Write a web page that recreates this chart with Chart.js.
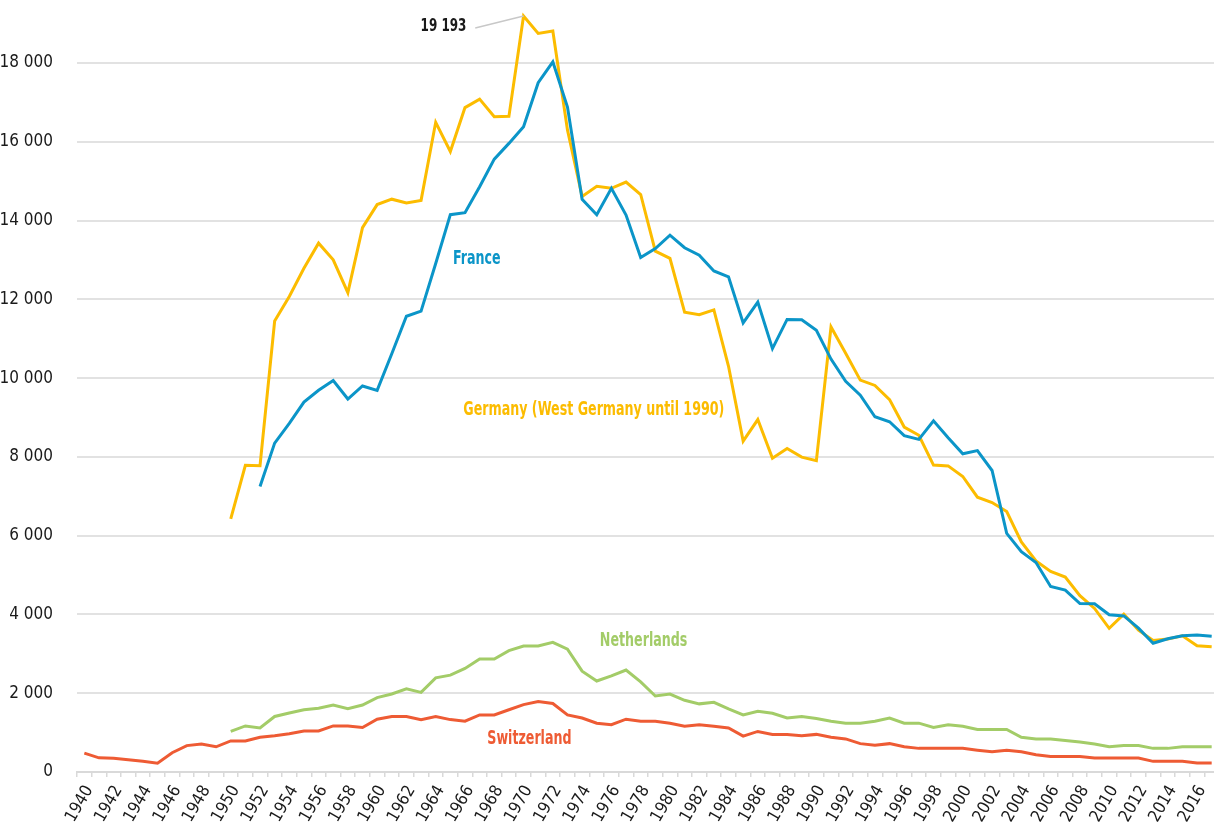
<!DOCTYPE html>
<html>
<head>
<meta charset="utf-8">
<title>Road deaths</title>
<script src="https://cdn.jsdelivr.net/npm/chart.js@4.4.1/dist/chart.umd.min.js"></script>
<style>
html, body { margin:0; padding:0; background:#fff; overflow:hidden; }
#wrap { width:1219px; height:822px; position:relative; }
</style>
</head>
<body>
<div id="wrap"><canvas id="graph"></canvas></div>
<script>
/************************************** Data **************************************/
const years = [1940,1941,1942,1943,1944,1945,1946,1947,1948,1949,
  1950,1951,1952,1953,1954,1955,1956,1957,1958,1959,
  1960,1961,1962,1963,1964,1965,1966,1967,1968,1969,
  1970,1971,1972,1973,1974,1975,1976,1977,1978,1979,
  1980,1981,1982,1983,1984,1985,1986,1987,1988,1989,
  1990,1991,1992,1993,1994,1995,1996,1997,1998,1999,
  2000,2001,2002,2003,2004,2005,2006,2007,2008,2009,
  2010,2011,2012,2013,2014,2015,2016,2017];

const yTicks = [0, 2000, 4000, 6000, 8000, 10000, 12000, 14000, 16000, 18000];

// 1940-1951 no data
const france = [null,null,null,null,null,null,null,null,null,null,
  null,null,7250,8350,8850,9390,9690,9940,9470,9800,
  9690,10620,11570,11700,12910,14150,14200,14860,15560,15960,
  16380,17500,18030,16880,14540,14150,14820,14140,13060,13290,
  13630,13310,13120,12720,12570,11400,11930,10750,11490,11480,
  11215,10483,9920,9568,9019,8892,8541,8444,8918,8487,
  8079,8160,7655,6058,5593,5318,4709,4620,4275,4273,
  3992,3963,3653,3268,3384,3461,3477,3448];

// 1940-1949 no data
const germany = [null,null,null,null,null,null,null,null,null,null,
  6428,7787,7776,11449,12071,12791,13427,13004,12169,13822,
  14406,14543,14445,14513,16494,15753,16868,17084,16636,16646,
  19193,18753,18811,16302,14614,14870,14820,14978,14662,13222,
  13041,11674,11608,11732,10300,8400,8948,7967,8213,7995,
  7906,11300,10631,9949,9814,9454,8758,8549,7792,7772,
  7503,6977,6842,6613,5842,5361,5091,4949,4477,4152,
  3648,4009,3600,3339,3377,3459,3206,3180];

const netherlands = [null,null,null,null,null,null,null,null,null,null,
  1030,1170,1120,1410,1500,1580,1620,1700,1610,1700,
  1890,1980,2110,2020,2390,2460,2630,2870,2870,3080,
  3200,3200,3290,3120,2560,2310,2440,2590,2290,1930,
  1980,1820,1730,1770,1600,1450,1540,1490,1370,1410,
  1360,1290,1240,1240,1290,1370,1240,1240,1130,1200,
  1160,1080,1080,1080,880,840,840,800,760,710,
  640,670,670,600,600,640,640,640];

const switzerland = [480,360,350,310,270,225,490,670,710,640,
  790,790,880,920,970,1040,1040,1170,1170,1130,
  1340,1410,1410,1330,1410,1330,1290,1450,1450,1580,
  1710,1790,1740,1450,1370,1240,1200,1340,1290,1290,
  1240,1160,1200,1160,1120,910,1030,950,950,920,
  955,880,840,720,680,720,640,600,600,600,
  600,555,515,555,515,440,395,395,395,355,
  355,355,355,270,270,270,228,228];

/************************************** Styles **************************************/
const FONT = "'Liberation Sans Narrow', 'DejaVu Sans Condensed', sans-serif";
const colFrance = '#0b95c8';
const colGermany = '#fcbc00';
const colNether = '#a3cc68';
const colSwiss = '#ee5b34';
const squeeze = 0.74; // text in the source is a condensed face

Chart.defaults.font.family = FONT;

const spaced = (v) => String(v).replace(/\B(?=(\d{3})+(?!\d))/g, ' ');

/************************************** Labels on the lines **************************************/
const lineLabels = [
  {text: 'France', year: 1966.8, value: 13020, color: colFrance},
  {text: 'Germany (West Germany until 1990)', year: 1974.8, value: 9180, color: colGermany},
  {text: 'Netherlands', year: 1978.2, value: 3330, color: colNether},
  {text: 'Switzerland', year: 1970.4, value: 840, color: colSwiss}
];

const drawNarrow = (ctx, text, x, y) => {
  ctx.save();
  ctx.translate(x, y);
  ctx.scale(squeeze, 1);
  ctx.fillText(text, 0, 0);
  ctx.restore();
};

const labelPlugin = {
  id: 'lineLabels',
  afterDatasetsDraw(chart) {
    const ctx = chart.ctx;
    const x = chart.scales.x, y = chart.scales.y;
    const px = (yr) => x.getPixelForValue(yr - years[0]);
    ctx.save();
    ctx.font = 'bold 19px ' + FONT;
    ctx.textAlign = 'center';
    ctx.textBaseline = 'middle';
    lineLabels.forEach((l) => {
      ctx.fillStyle = l.color;
      drawNarrow(ctx, l.text, px(l.year), y.getPixelForValue(l.value));
    });
    // peak callout
    const peak = Math.max(...germany.filter(v => v !== null));
    const peakYear = years[germany.indexOf(peak)];
    ctx.strokeStyle = '#c8c8c8';
    ctx.lineWidth = 1.5;
    ctx.beginPath();
    ctx.moveTo(px(1966.7), y.getPixelForValue(18890));
    ctx.lineTo(px(peakYear), y.getPixelForValue(peak));
    ctx.stroke();
    ctx.fillStyle = '#1a1a1a';
    ctx.font = 'bold 18px ' + FONT;
    ctx.textAlign = 'right';
    drawNarrow(ctx, spaced(peak), px(1966.1), y.getPixelForValue(18920));
    ctx.restore();
  }
};

/************************************** Chart **************************************/
const makeSet = (label, data, color) => ({
  label: label,
  data: data,
  borderColor: color,
  backgroundColor: color,
  borderWidth: 3,
  pointRadius: 0,
  tension: 0,
  fill: false
});

new Chart(document.getElementById('graph'), {
  type: 'line',
  data: {
    labels: years,
    datasets: [
      makeSet('France', france, colFrance),
      makeSet('Germany (West Germany until 1990)', germany, colGermany),
      makeSet('Netherlands', netherlands, colNether),
      makeSet('Switzerland', switzerland, colSwiss)
    ]
  },
  options: {
    responsive: true,
    maintainAspectRatio: false,
    animation: false,
    layout: { padding: 0 },
    plugins: {
      legend: { display: false },
      tooltip: { enabled: false }
    },
    scales: {
      x: {
        offset: true,
        grid: { offset: true, drawOnChartArea: false, drawTicks: true, tickLength: 5, color: '#d9d9d9', lineWidth: 1.5 },
        border: { display: true, color: '#d9d9d9', width: 2 },
        ticks: {
          autoSkip: false,
          minRotation: 60,
          maxRotation: 60,
          padding: 5,
          labelOffset: 5,
          color: '#1a1a1a',
          font: { size: 17 },
          callback: (val, i) => (years[i] % 2 === 0 ? String(years[i]) : '')
        },
        afterFit: (s) => { s.height = 50; s.paddingLeft = 0; s.paddingRight = 0; }
      },
      y: {
        min: 0,
        max: 19600,
        afterBuildTicks: (s) => { s.ticks = yTicks.map(v => ({value: v})); },
        grid: { color: '#e2e2e2', lineWidth: 2, drawTicks: false },
        border: { display: false },
        ticks: {
          padding: 24,
          color: '#1a1a1a',
          font: { size: 17 },
          callback: (v) => spaced(v)
        },
        afterFit: (s) => { s.width = 77; s.paddingTop = 0; s.paddingBottom = 0; }
      }
    }
  },
  plugins: [labelPlugin]
});
</script>
</body>
</html>
